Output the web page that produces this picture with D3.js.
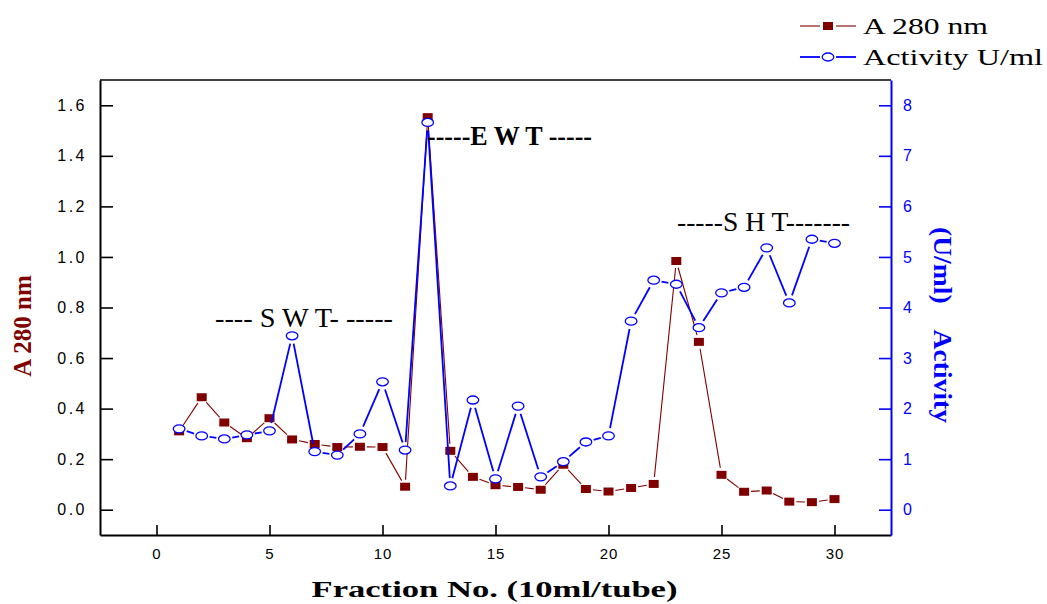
<!DOCTYPE html>
<html>
<head>
<meta charset="utf-8">
<script src="https://cdn.jsdelivr.net/npm/d3@7"></script>
<style>
  body { margin: 0; background: #fff; }
  svg { display: block; }
  .tick text { font-family: "Liberation Sans", Arial, sans-serif; font-size: 16px; letter-spacing: 2.5px; }
  .xax .tick text { font-size: 15px; letter-spacing: 1px; }
</style>
</head>
<body>
<div id="chart"></div>
<script>
// fraction numbers (tubes)
const fractions = [1, 2, 3, 4, 5, 6, 7, 8, 9, 10, 11, 12, 13, 14, 15, 16, 17, 18, 19, 20, 21, 22, 23, 24, 25, 26, 27, 28, 29, 30];
// absorbance at 280 nm
const a280 = [0.31, 0.445, 0.345, 0.283, 0.362, 0.278, 0.26, 0.248, 0.249, 0.248, 0.091, 1.553, 0.233, 0.13, 0.097,
  0.09, 0.079, 0.178, 0.082, 0.072, 0.086, 0.102, 0.984, 0.664, 0.138, 0.071, 0.076, 0.032, 0.03, 0.042];
// enzyme activity U/ml
const activity = [1.6, 1.46, 1.4, 1.48, 1.56, 3.44, 1.15, 1.08, 1.5, 2.53, 1.18, 7.66, 0.47, 2.17, 0.61,
  2.05, 0.65, 0.95, 1.34, 1.46, 3.73, 4.54, 4.46, 3.6, 4.29, 4.4, 5.18, 4.09, 5.35, 5.27];

const xTicks = [0, 5, 10, 15, 20, 25, 30];
const xMinor = [-2.5, 2.5, 7.5, 12.5, 17.5, 22.5, 27.5, 32.5];
const leftTicks = [0, 0.2, 0.4, 0.6, 0.8, 1.0, 1.2, 1.4, 1.6];
const leftMinor = [-0.1, 0.1, 0.3, 0.5, 0.7, 0.9, 1.1, 1.3, 1.5, 1.7];
const rightTicks = [0, 1, 2, 3, 4, 5, 6, 7, 8];
const rightMinor = [0.5, 1.5, 2.5, 3.5, 4.5, 5.5, 6.5, 7.5];

const RED = "#800000", BLUE = "#0000ff";
const W = 1047, H = 604;
const M = { top: 80, right: 156, bottom: 69, left: 100 };

const svg = d3.select("#chart").append("svg").attr("width", W).attr("height", H);

const x = d3.scaleLinear().domain([-2.5, 32.5]).range([M.left, W - M.right]);
const yL = d3.scaleLinear().domain([-0.1, 1.7]).range([H - M.bottom, M.top]);
const yR = d3.scaleLinear().domain([-0.5, 8.5]).range([H - M.bottom, M.top]);

// frame top
svg.append("line").attr("x1", M.left).attr("x2", W - M.right).attr("y1", M.top).attr("y2", M.top)
  .attr("stroke", "#000").attr("stroke-width", 1.5);

// bottom axis
const gx = svg.append("g").attr("class", "xax").attr("transform", `translate(0,${H - M.bottom})`);
gx.call(d3.axisBottom(x).tickValues(xMinor).tickSize(-4).tickSizeOuter(0).tickFormat(""));
gx.call(d3.axisBottom(x).tickValues(xTicks).tickSize(-10).tickSizeOuter(0).tickPadding(13).tickFormat(d3.format("d")));

// left axis
const gl = svg.append("g").attr("transform", `translate(${M.left},0)`);
gl.call(d3.axisLeft(yL).tickValues(leftMinor).tickSize(-4).tickSizeOuter(0).tickFormat(""));
gl.call(d3.axisLeft(yL).tickValues(leftTicks).tickSize(-13).tickSizeOuter(0).tickPadding(13).tickFormat(d3.format(".1f")));

// right axis (blue)
const gr = svg.append("g").attr("transform", `translate(${W - M.right},0)`);
gr.call(d3.axisRight(yR).tickValues(rightMinor).tickSize(-4).tickSizeOuter(0).tickFormat(""));
gr.call(d3.axisRight(yR).tickValues(rightTicks).tickSize(-12).tickSizeOuter(0).tickPadding(12).tickFormat(d3.format("d")));

svg.selectAll(".domain").attr("stroke-width", 2);
svg.selectAll(".tick line").attr("stroke-width", 1.6);
gr.selectAll(".domain, .tick line").attr("stroke", BLUE);
gr.selectAll(".tick text").attr("fill", BLUE);

// line segments with small gaps around the markers
function gapSegments(pts, gap) {
  const segs = [];
  for (let i = 1; i < pts.length; i++) {
    const [x0, y0] = pts[i - 1], [x1, y1] = pts[i];
    const len = Math.hypot(x1 - x0, y1 - y0);
    if (len <= gap * 2) continue;
    const ux = (x1 - x0) / len, uy = (y1 - y0) / len;
    segs.push([x0 + ux * gap, y0 + uy * gap, x1 - ux * gap, y1 - uy * gap]);
  }
  return segs;
}

const redPts = fractions.map((f, i) => [x(f), yL(a280[i])]);
const bluePts = fractions.map((f, i) => [x(f), yR(activity[i])]);

svg.append("g").selectAll("line").data(gapSegments(redPts, 7)).join("line")
  .attr("x1", d => d[0]).attr("y1", d => d[1]).attr("x2", d => d[2]).attr("y2", d => d[3])
  .attr("stroke", RED).attr("stroke-width", 1.1);
svg.append("g").selectAll("rect").data(redPts).join("rect")
  .attr("x", d => d[0] - 5).attr("y", d => d[1] - 4).attr("width", 10).attr("height", 8)
  .attr("fill", RED);

svg.append("g").selectAll("line").data(gapSegments(bluePts, 8)).join("line")
  .attr("x1", d => d[0]).attr("y1", d => d[1]).attr("x2", d => d[2]).attr("y2", d => d[3])
  .attr("stroke", BLUE).attr("stroke-width", 1.8);
svg.append("g").selectAll("ellipse").data(bluePts).join("ellipse")
  .attr("cx", d => d[0]).attr("cy", d => d[1]).attr("rx", 5.8).attr("ry", 4)
  .attr("fill", "#fff").attr("stroke", BLUE).attr("stroke-width", 1.3);

// axis titles
const serif = '"Liberation Serif", "Times New Roman", serif';
svg.append("text").attr("x", (M.left + W - M.right) / 2 - 1).attr("y", 597)
  .attr("text-anchor", "middle").attr("font-family", serif).attr("font-weight", "bold")
  .attr("font-size", 24).attr("textLength", 366).attr("lengthAdjust", "spacingAndGlyphs")
  .text("Fraction No. (10ml/tube)");

svg.append("text").attr("transform", "translate(31,326) rotate(-90)")
  .attr("text-anchor", "middle").attr("font-family", serif).attr("font-weight", "bold")
  .attr("font-size", 25).attr("fill", RED).text("A 280 nm");

svg.append("text").attr("transform", "translate(934,325) rotate(90)")
  .attr("text-anchor", "middle").attr("font-family", serif).attr("font-weight", "bold")
  .attr("font-size", 25).attr("fill", BLUE).attr("textLength", 196).attr("lengthAdjust", "spacingAndGlyphs")
  .style("white-space", "pre")
  .text("(U/ml)    Activity");

// region annotations
const notes = [
  { t: "---- S W T- -----", x0: 215, x1: 393, y: 327, bold: false },
  { t: "-----E W T -----", x0: 427, x1: 592, y: 145, bold: true },
  { t: "-----S H T-------", x0: 677, x1: 850, y: 231, bold: false }
];
svg.append("g").selectAll("text").data(notes).join("text")
  .attr("x", d => d.x0).attr("y", d => d.y).attr("textLength", d => d.x1 - d.x0)
  .attr("lengthAdjust", "spacingAndGlyphs")
  .attr("font-family", serif).attr("font-size", 27).attr("font-weight", d => d.bold ? "bold" : "normal")
  .attr("fill", "#000").text(d => d.t);

// legend
const legend = [
  { label: "A 280 nm", color: RED, shape: "square", y: 26, len: 125 },
  { label: "Activity U/ml", color: BLUE, shape: "circle", y: 57, len: 180 }
];
const lg = svg.append("g").selectAll("g").data(legend).join("g");
lg.append("line").attr("x1", 800).attr("x2", 820).attr("y1", d => d.y).attr("y2", d => d.y)
  .attr("stroke", d => d.color).attr("stroke-width", d => d.shape === "square" ? 1.1 : 1.8);
lg.append("line").attr("x1", 836).attr("x2", 856).attr("y1", d => d.y).attr("y2", d => d.y)
  .attr("stroke", d => d.color).attr("stroke-width", d => d.shape === "square" ? 1.1 : 1.8);
lg.filter(d => d.shape === "square").append("rect")
  .attr("x", 823).attr("y", d => d.y - 4).attr("width", 10).attr("height", 8).attr("fill", RED);
lg.filter(d => d.shape === "circle").append("ellipse")
  .attr("cx", 828).attr("cy", d => d.y).attr("rx", 5.8).attr("ry", 4)
  .attr("fill", "#fff").attr("stroke", BLUE).attr("stroke-width", 1.3);
lg.append("text").attr("x", 863).attr("y", d => d.y + 8).attr("textLength", d => d.len)
  .attr("lengthAdjust", "spacingAndGlyphs")
  .attr("font-family", serif).attr("font-size", 24).attr("fill", "#000").text(d => d.label);
</script>
</body>
</html>
